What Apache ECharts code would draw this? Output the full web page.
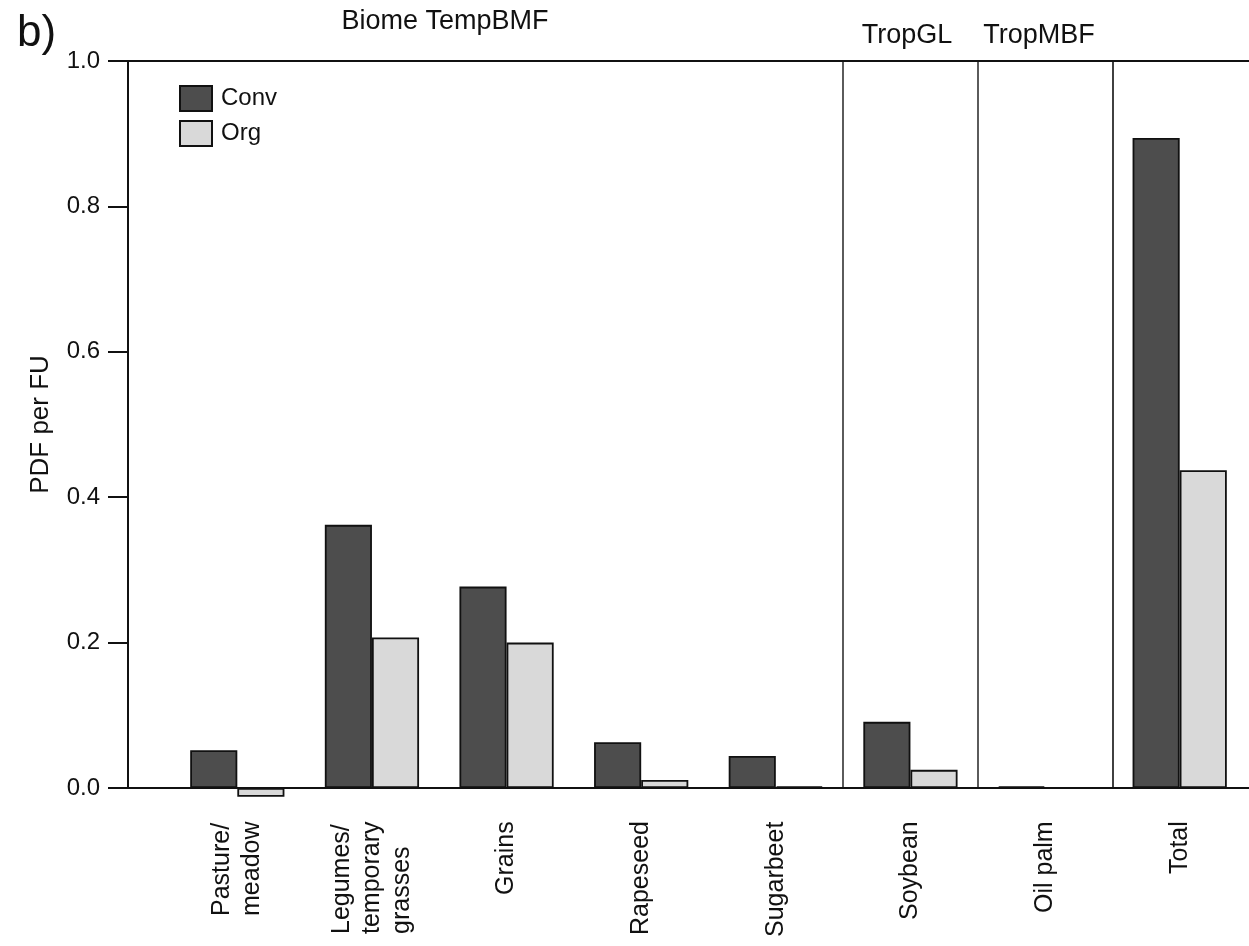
<!DOCTYPE html>
<html>
<head>
<meta charset="utf-8">
<script src="https://cdn.jsdelivr.net/npm/echarts@6/dist/echarts.min.js"></script>
<style>
html,body{margin:0;padding:0;background:#fff;}
#chart{width:1249px;height:946px;}
</style>
</head>
<body>
<div id="chart"></div>
<script>
// ---- data ----
const categories = ['Pasture/\nmeadow', 'Legumes/\ntemporary\ngrasses', 'Grains', 'Rapeseed', 'Sugarbeet', 'Soybean', 'Oil palm', 'Total'];
const convValues = [0.052, 0.362, 0.277, 0.063, 0.044, 0.091, 0.002, 0.894];
const orgValues  = [-0.012, 0.207, 0.200, 0.011, 0.002, 0.025, 0.0, 0.437];
const seriesNames = ['Conv', 'Org'];
const yTicks = [0, 0.2, 0.4, 0.6, 0.8, 1.0];
const groupLabels = ['Biome TempBMF', 'TropGL', 'TropMBF'];
const separatorBefore = [5, 6, 7]; // category indices preceded by a vertical separator

const FONT = 'Liberation Sans, Arial, Helvetica, sans-serif';
const CAT_FONT_SIZE = 25;

// rich styles so that the lines of a multi-line label share the same starting edge
const measureCtx = document.createElement('canvas').getContext('2d');
measureCtx.font = CAT_FONT_SIZE + 'px ' + FONT;
const catRich = {};
categories.forEach(function (c, i) {
  const w = Math.max.apply(null, c.split('\n').map(function (s) { return measureCtx.measureText(s).width; }));
  catRich['c' + i] = {width: Math.ceil(w) + 1, align: 'left', fontSize: CAT_FONT_SIZE, fontFamily: FONT, color: '#111', lineHeight: 30};
});

const chart = echarts.init(document.getElementById('chart'), null, {renderer: 'canvas'});

const option = {
  backgroundColor: '#fff',
  animation: false,
  textStyle: {fontFamily: FONT, color: '#111'},
  grid: [
    {left: 128, right: 0, top: 61, bottom: 158},
    {left: 170, right: 2, top: 61, bottom: 158}
  ],
  legend: {
    data: seriesNames,
    orient: 'vertical',
    left: 174, top: 80,
    itemWidth: 32, itemHeight: 25, itemGap: 8,
    icon: 'rect',
    textStyle: {fontSize: 24, fontFamily: FONT, color: '#111', padding: [0, 0, 0, 4]}
  },
  xAxis: [
    {gridIndex: 0, type: 'value', min: 0, max: 1, position: 'bottom',
     axisLine: {show: true, onZero: false, lineStyle: {color: '#111', width: 2}},
     axisTick: {show: false}, axisLabel: {show: false}, splitLine: {show: false}},
    {gridIndex: 0, type: 'value', min: 0, max: 1, position: 'top',
     axisLine: {show: true, onZero: false, lineStyle: {color: '#111', width: 2}},
     axisTick: {show: false}, axisLabel: {show: false}, splitLine: {show: false}},
    {gridIndex: 1, type: 'category', data: categories, position: 'bottom',
     axisLine: {show: false}, axisTick: {show: false},
     axisLabel: {rotate: 90, fontSize: CAT_FONT_SIZE, fontFamily: FONT, color: '#111', margin: 32, lineHeight: 30, interval: 0,
                 formatter: function (v, i) {
                   return v.split('\n').map(function (s) { return '{c' + i + '|' + s + '}'; }).join('\n');
                 },
                 rich: catRich},
     splitLine: {show: true, showMinLine: true, showMaxLine: false,
                 interval: function (i) { return separatorBefore.indexOf(i) >= 0; },
                 lineStyle: {color: ['#333', '#333', '#111'], width: 1.6}}}
  ],
  yAxis: [
    {gridIndex: 0, type: 'value', min: 0, max: 1, interval: 0.2,
     name: 'PDF per FU', nameLocation: 'middle', nameGap: 74, nameRotate: 90,
     nameTextStyle: {fontSize: 26, fontFamily: FONT, color: '#111'},
     axisLine: {show: true, lineStyle: {color: '#111', width: 2}},
     axisTick: {show: true, length: 20, lineStyle: {color: '#111', width: 2}},
     axisLabel: {fontSize: 24, fontFamily: FONT, color: '#111', margin: 28,
                 formatter: function (v) { return v.toFixed(1); }},
     splitLine: {show: false}},
    {gridIndex: 1, type: 'value', min: 0, max: 1, show: false}
  ],
  series: [
    {name: seriesNames[0], type: 'bar', xAxisIndex: 2, yAxisIndex: 1, data: convValues,
     barGap: '0%', barCategoryGap: '30%', clip: false,
     itemStyle: {color: '#4d4d4d', borderColor: '#111', borderWidth: 1.8}},
    {name: seriesNames[1], type: 'bar', xAxisIndex: 2, yAxisIndex: 1, data: orgValues,
     barGap: '0%', barCategoryGap: '30%', clip: false,
     itemStyle: {color: '#d9d9d9', borderColor: '#111', borderWidth: 1.8}}
  ],
  graphic: [
    {type: 'text', left: 17, top: 12, style: {text: 'b)', fontSize: 44, fontFamily: FONT, fill: '#111'}},
    {type: 'text', x: 445, y: 22, style: {text: groupLabels[0], fontSize: 27, fontFamily: FONT, fill: '#111', align: 'center', verticalAlign: 'middle'}},
    {type: 'text', x: 907, y: 36, style: {text: groupLabels[1], fontSize: 27, fontFamily: FONT, fill: '#111', align: 'center', verticalAlign: 'middle'}},
    {type: 'text', x: 1039, y: 36, style: {text: groupLabels[2], fontSize: 27, fontFamily: FONT, fill: '#111', align: 'center', verticalAlign: 'middle'}}
  ]
};
chart.setOption(option);
</script>
</body>
</html>
